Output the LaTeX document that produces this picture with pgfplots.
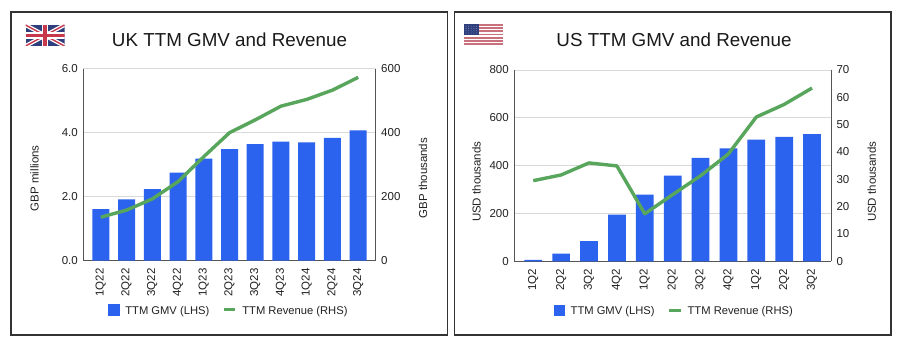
\documentclass[border=0pt]{standalone}
\usepackage{fontspec}
\setmainfont{Liberation Sans}
\usepackage{pgfplots}
\pgfplotsset{compat=1.18}
\definecolor{barblue}{HTML}{2C63EE}
\definecolor{linegreen}{HTML}{58A55C}
\definecolor{gridc}{HTML}{D9D9D9}
\definecolor{axc}{HTML}{555555}
\definecolor{txt}{HTML}{222222}
\definecolor{ukblue}{HTML}{2F3F7E}
\definecolor{ukred}{HTML}{C8384C}
\definecolor{usred}{HTML}{C9707C}
\pgfplotsset{
  common/.style={
    scale only axis,
    xmin=-0.68, xmax=10.68,
    ymin=0,
    xtick=\empty,
    tick style={draw=none},
    tick label style={font=\fontsize{11.5}{12}\selectfont, text=txt},
    label style={font=\fontsize{11.5}{12}\selectfont, text=txt},
    /pgf/number format/assume math mode=true,
    clip=false,
  },
  leftaxis/.style={
    common,
    axis y line*=left,
    axis x line*=bottom,
    axis line style={draw=axc, line width=0.8pt, -},
    ymajorgrids,
    major grid style={draw=gridc, line width=0.8pt},
    xticklabel style={rotate=90, anchor=east, font=\fontsize{11.5}{12}\selectfont, text=txt},
    yticklabel style={xshift=-2pt},
    xtick=data,
    legend cell align=left,
    legend columns=2,
    legend style={draw=none, fill=none, font=\fontsize{11.2}{12}\selectfont, text=txt,
      anchor=center, column sep=3.5pt, /tikz/column 2/.style={column sep=11pt}},
  },
  rightaxis/.style={
    common,
    axis y line*=right,
    axis x line=none,
    axis line style={draw=axc, line width=0.8pt, -},
    yticklabel style={xshift=2pt},
  },
  gmvbar/.style={ybar, draw=none, fill=barblue,
    legend image code/.code={\fill[barblue] (0pt,-4.8pt) rectangle (11.5pt,6.7pt);}},
  revline/.style={draw=linegreen, line width=3.4pt, line join=round, no marks,
    legend image code/.code={\draw[linegreen, line width=3pt] (0pt,1.2pt) -- (11.5pt,1.2pt);}},
}
\begin{document}
\begin{tikzpicture}[x=1pt,y=1pt]
\useasboundingbox (0,0) rectangle (902,354);
\fill[white] (0,0) rectangle (902,354);
% frames
\draw[draw=black!80, line width=1.5pt] (11,19) rectangle (447.5,342);
\draw[draw=black!80, line width=1.5pt] (454.5,19) rectangle (891,342);
% UK flag
\begin{scope}[shift={(25.5,308)}]
  \clip (0,0) rectangle (39,21);
  \fill[ukblue] (0,0) rectangle (39,21);
  \draw[white, line width=4pt] (0,0) -- (39,21) (0,21) -- (39,0);
  \draw[ukred, line width=1.4pt] (0,0) -- (39,21) (0,21) -- (39,0);
  \draw[white, line width=6.5pt] (19.5,0) -- (19.5,21) (0,10.5) -- (39,10.5);
  \draw[ukred, line width=3.6pt] (19.5,0) -- (19.5,21) (0,10.5) -- (39,10.5);
\end{scope}
% US flag
\begin{scope}[shift={(463.5,309)}]
  \fill[white] (0,0) rectangle (39,21);
  \foreach \i in {0,2,...,12} {\fill[usred] (0,{\i*21/13}) rectangle (39,{(\i+1)*21/13});}
  \fill[ukblue] (0,{6*21/13}) rectangle (15.5,21);
  \foreach \a in {1,...,5} \foreach \b in {1,...,4}
    {\fill[white!45!ukblue] ({\a*15.5/6},{9.7+\b*11.3/5}) circle (0.45pt);}
\end{scope}
\node[font=\fontsize{18.8}{20}\selectfont, text=black!90] at (229.5,314.5) {UK TTM GMV and Revenue};
\node[font=\fontsize{18.8}{20}\selectfont, text=black!90] at (674,314.5) {US TTM GMV and Revenue};

% ---------- UK
\begin{axis}[leftaxis, at={(83.3pt,93.3pt)}, anchor=south west, width=292.4pt, height=192pt,
  ymax=6, ytick={0,2,4,6},
  yticklabel style={/pgf/number format/.cd, fixed, fixed zerofill, precision=1},
  xticklabels={1Q22,2Q22,3Q22,4Q22,1Q23,2Q23,3Q23,4Q23,1Q24,2Q24,3Q24},
  ylabel={GBP millions}, ylabel style={at={(axis description cs:-0.167,0.43)}, anchor=center},
  legend style={at={(axis description cs:0.498,-0.263)}},
  bar width=17pt, ybar=0pt,
  ]
\addplot[gmvbar] coordinates {(0,1.61)(1,1.92)(2,2.24)(3,2.75)(4,3.19)(5,3.49)(6,3.64)(7,3.72)(8,3.70)(9,3.84)(10,4.07)};
\addlegendentry{TTM GMV (LHS)}
\addlegendimage{revline}
\addlegendentry{TTM Revenue (RHS)}
\end{axis}
\begin{axis}[rightaxis, at={(83.3pt,93.3pt)}, anchor=south west, width=292.4pt, height=192pt,
  ymax=600, ytick={0,200,400,600},
  ylabel={GBP thousands}, ylabel style={at={(axis description cs:1.162,0.43)}, anchor=center},
  ]
\addplot[revline] coordinates {(0,136)(1,158)(2,193)(3,247)(4,325)(5,400)(6,440)(7,483)(8,504)(9,533)(10,573)};
\end{axis}

% ---------- US
\begin{axis}[leftaxis, at={(514.3pt,92.7pt)}, anchor=south west, width=316.7pt, height=191.3pt,
  ymax=800, ytick={0,200,400,600,800},
  xticklabels={1Q2,2Q2,3Q2,4Q2,1Q2,2Q2,3Q2,4Q2,1Q2,2Q2,3Q2},
  ylabel={USD thousands}, ylabel style={at={(axis description cs:-0.119,0.416)}, anchor=center},
  legend style={at={(axis description cs:0.505,-0.263)}},
  bar width=17.7pt, ybar=0pt,
  ]
\addplot[gmvbar] coordinates {(0,6)(1,32)(2,84)(3,195)(4,279)(5,358)(6,433)(7,472)(8,509)(9,520)(10,532)};
\addlegendentry{TTM GMV (LHS)}
\addlegendimage{revline}
\addlegendentry{TTM Revenue (RHS)}
\end{axis}
\begin{axis}[rightaxis, at={(514.3pt,92.7pt)}, anchor=south west, width=316.7pt, height=191.3pt,
  ymax=70, ytick={0,10,...,70},
  ylabel={USD thousands}, ylabel style={at={(axis description cs:1.129,0.416)}, anchor=center},
  ]
\addplot[revline] coordinates {(0,29.5)(1,31.6)(2,36)(3,34.9)(4,17.4)(5,24.4)(6,31.3)(7,39.3)(8,52.8)(9,57.4)(10,63.4)};
\end{axis}
\end{tikzpicture}
\end{document}
